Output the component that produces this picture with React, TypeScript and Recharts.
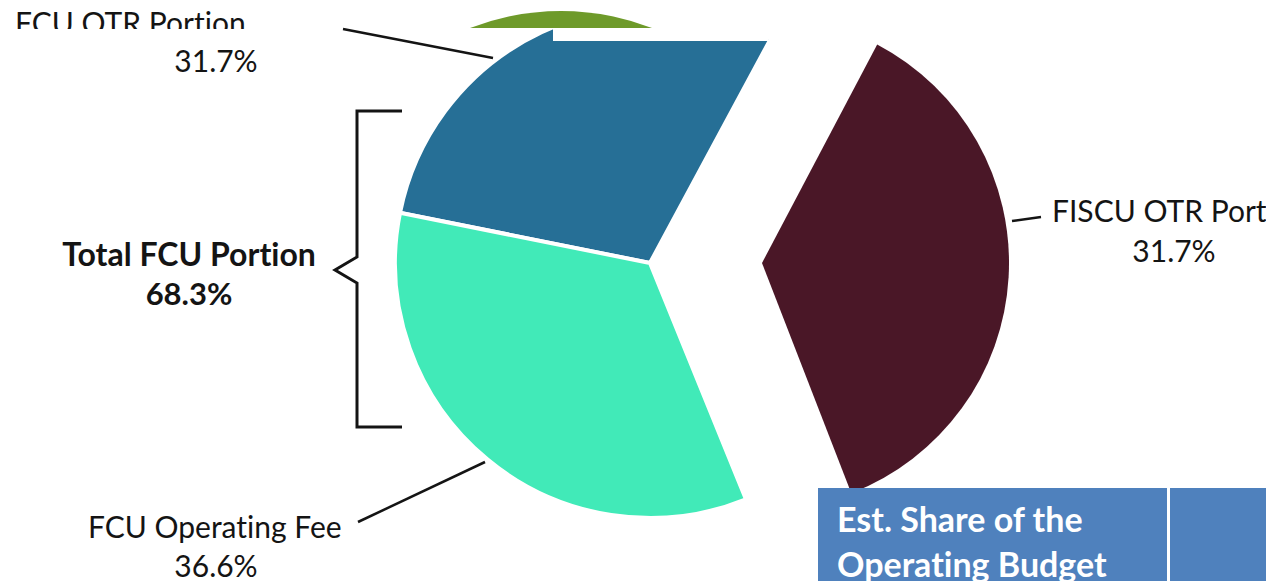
import React from 'react';
import { PieChart, Pie, Cell } from 'recharts';

// FCU side of the pie (drawn together), FISCU slice exploded to the right
const fcuSlices = [
    { name: 'FCU OTR Portion', value: 31.7 },
    { name: 'FCU Operating Fee', value: 36.6 },
];
const fiscuSlices = [{ name: 'FISCU OTR Portion', value: 31.7 }];
// green sliver peeking out above the chart
const topSlice = [{ name: 'other', value: 1 }];

const fcuColors = ['#266F96', '#41EAB8'];
const fiscuColor = '#4A1727';
const topColor = '#6E9A2A';

const totalFcuLabel = 'Total FCU Portion';
const totalFcuShare = '68.3%';
const tableHeader = ['Est. Share of the', 'Operating Budget'];

const W = 1266;
const H = 581;
const FONT = 'Lato, "Open Sans", sans-serif';
const INK = '#141414';

const layer: React.CSSProperties = { position: 'absolute', left: 0, top: 0 };

export default function App() {
    return (
        <div style={{ position: 'absolute', left: 0, top: 0, width: W, height: H, overflow: 'hidden', background: '#fff' }}>
            <div style={layer}>
                <PieChart width={W} height={H} margin={{ top: 0, right: 0, bottom: 0, left: 0 }}>
                    <Pie
                        data={fcuSlices}
                        dataKey="value"
                        nameKey="name"
                        cx={650}
                        cy={263}
                        outerRadius={255}
                        startAngle={61.7}
                        endAngle={292.1}
                        stroke="#fff"
                        strokeWidth={4}
                        label={false}
                        labelLine={false}
                        isAnimationActive={false}
                    >
                        {fcuSlices.map((d, i) => (
                            <Cell key={d.name} fill={fcuColors[i]} />
                        ))}
                    </Pie>
                    <Pie
                        data={fiscuSlices}
                        dataKey="value"
                        nameKey="name"
                        cx={762}
                        cy={263}
                        outerRadius={247}
                        startAngle={-68.8}
                        endAngle={62.2}
                        stroke="none"
                        label={false}
                        labelLine={false}
                        isAnimationActive={false}
                    >
                        {fiscuSlices.map((d) => (
                            <Cell key={d.name} fill={fiscuColor} />
                        ))}
                    </Pie>
                </PieChart>
            </div>

            <svg style={{ ...layer, fontVariantLigatures: 'none' }} width={W} height={H} fontFamily={FONT}>
                <text x={15} y={34} fontSize={30} fill={INK}>FCU OTR Portion</text>
                <rect x={0} y={29} width={470} height={14} fill="#fff" />
                <rect x={553} y={0} width={215} height={41} fill="#fff" />
                <line x1={343} y1={29} x2={493} y2={58} stroke={INK} strokeWidth={2.5} />
                <text x={216} y={72} fontSize={30} fill={INK} textAnchor="middle">31.7%</text>

                <path d="M402,111 H357 V257 L335,270 L357,283 V427 H402" fill="none" stroke={INK} strokeWidth={3} />
                <text x={189} y={266} fontSize={32} fontWeight={700} fill={INK} textAnchor="middle">{totalFcuLabel}</text>
                <text x={189} y={305} fontSize={31} fontWeight={700} fill={INK} textAnchor="middle">{totalFcuShare}</text>

                <text x={88} y={538} fontSize={30} fill={INK}>FCU Operating Fee</text>
                <text x={216} y={577} fontSize={30} fill={INK} textAnchor="middle">36.6%</text>
                <line x1={358} y1={522} x2={485} y2={462} stroke={INK} strokeWidth={2.5} />

                <line x1={1012} y1={221} x2={1041} y2={217} stroke={INK} strokeWidth={2.5} />
                <text x={1052} y={222} fontSize={30} fill={INK}>FISCU OTR Portion</text>
                <text x={1174} y={262} fontSize={30} fill={INK} textAnchor="middle">31.7%</text>

                <rect x={818} y={488} width={349} height={100} fill="#4F81BD" />
                <rect x={1170} y={488} width={100} height={100} fill="#4F81BD" />
                <text x={837} y={532} fontSize={34} fontWeight={700} fill="#fff">{tableHeader[0]}</text>
                <text x={837} y={577} fontSize={34} fontWeight={700} fill="#fff">{tableHeader[1]}</text>
            </svg>

            <div style={{ ...layer, width: W, height: 28, overflow: 'hidden' }}>
                <PieChart width={W} height={H} margin={{ top: 0, right: 0, bottom: 0, left: 0 }}>
                    <Pie
                        data={topSlice}
                        dataKey="value"
                        cx={561}
                        cy={263}
                        outerRadius={252}
                        startAngle={66}
                        endAngle={114}
                        stroke="none"
                        label={false}
                        labelLine={false}
                        isAnimationActive={false}
                    >
                        {topSlice.map((d) => (
                            <Cell key={d.name} fill={topColor} />
                        ))}
                    </Pie>
                </PieChart>
            </div>
        </div>
    );
}
